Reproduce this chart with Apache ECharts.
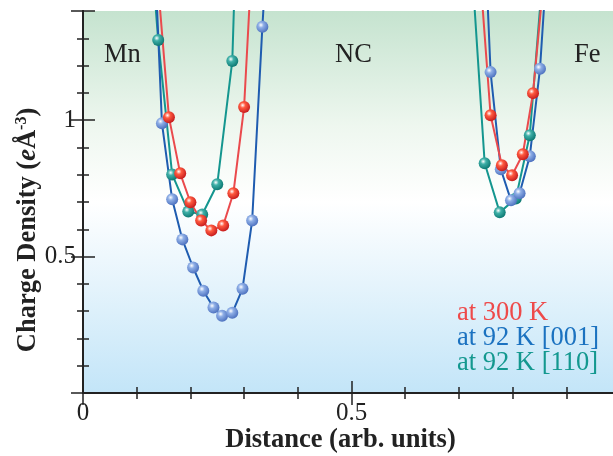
<!DOCTYPE html>
<html lang="en">
<head>
    <meta charset="utf-8">
    <title>charge density</title>
    <script src="https://cdn.jsdelivr.net/npm/echarts@6/dist/echarts.min.js"></script>
    <style>
        html, body { margin: 0; padding: 0; background: #fff; }
    </style>
</head>
<body>
<div id="chart" style="width:613px; height:456px;"></div>

<script>
    // points; points above 1.4 are outside the plot (lines leave the top)
    var redX  = [0.140, 0.160, 0.181, 0.200, 0.220, 0.239, 0.261, 0.280, 0.300, 0.321,
                 0.739, 0.759, 0.780, 0.799, 0.819, 0.838, 0.858];
    var redY  = [1.49, 1.011, 0.805, 0.699, 0.632, 0.596, 0.614, 0.732, 1.048, 1.83,
                 1.55, 1.018, 0.835, 0.798, 0.875, 1.099, 1.52];

    var blueX = [0.129, 0.147, 0.166, 0.185, 0.205, 0.224, 0.243, 0.259, 0.278, 0.297, 0.315, 0.334, 0.353,
                 0.741, 0.759, 0.778, 0.797, 0.813, 0.832, 0.851, 0.869];
    var blueY = [1.82, 0.989, 0.710, 0.563, 0.460, 0.375, 0.313, 0.283, 0.294, 0.382, 0.632, 1.342, 1.97,
                 2.0, 1.176, 0.820, 0.706, 0.732, 0.868, 1.188, 1.73];

    var tealX = [0.112, 0.140, 0.166, 0.196, 0.222, 0.250, 0.278, 0.306,
                 0.720, 0.748, 0.776, 0.806, 0.832, 0.860];
    var tealY = [2.0, 1.294, 0.801, 0.665, 0.654, 0.765, 1.217, 3.0,
                 1.69, 0.842, 0.662, 0.713, 0.945, 1.63];

    var legendNames = ['at 300 K', 'at 92 K [001]', 'at 92 K [110]'];
    var regionNames = ['Mn', 'NC', 'Fe'];

    function pairs(xs, ys) {
        return xs.map(function (x, i) { return [x, ys[i]]; });
    }

    function ball(light, dark) {
        return {
            type: 'radial', x: 0.38, y: 0.35, r: 0.65,
            colorStops: [
                {offset: 0, color: '#ffffff'},
                {offset: 0.35, color: light},
                {offset: 1, color: dark}
            ]
        };
    }

    var serif = '"Liberation Serif", "DejaVu Serif", serif';
    var tickCol = '#222';

    function minorAxis(pos, show, labels) {
        return {
            type: 'value', position: pos, min: 0, max: pos === 'left' || pos === 'right' ? 1.4 : 1, interval: 0.1,
            axisLine: {show: show, lineStyle: {color: tickCol, width: 2}},
            axisTick: {show: true, inside: true, length: 6, lineStyle: {color: tickCol, width: 1.5}},
            axisLabel: labels || {show: false},
            splitLine: {show: false}
        };
    }
    function majorAxis(pos) {
        return {
            type: 'value', position: pos, min: 0, max: pos === 'left' || pos === 'right' ? 1.4 : 1, interval: 0.5,
            axisLine: {show: false},
            axisTick: {show: true, inside: true, length: 12, lineStyle: {color: tickCol, width: 1.5}},
            axisLabel: {show: false},
            splitLine: {show: false}
        };
    }

    var chart = echarts.init(document.getElementById('chart'));

    var xMain = minorAxis('bottom', true, {
        show: true, margin: 8, color: '#222', fontFamily: serif, fontSize: 25,
        formatter: function (v) {
            if (Math.abs(v) < 1e-6) return '0';
            if (Math.abs(v - 0.5) < 1e-6) return '0.5';
            return '';
        }
    });
    xMain.name = 'Distance (arb. units)';
    xMain.nameLocation = 'middle';
    xMain.nameGap = 34;
    xMain.nameMoveOverlap = false;
    xMain.nameTextStyle = {fontFamily: serif, fontWeight: 'bold', fontSize: 26.5, color: '#222', padding: [0, 22, 0, 0]};

    var yMain = minorAxis('left', true, {
        show: true, margin: 7, color: '#222', fontFamily: serif, fontSize: 25,
        formatter: function (v) {
            if (Math.abs(v - 1) < 1e-6) return '1';
            if (Math.abs(v - 0.5) < 1e-6) return '0.5';
            return '';
        }
    });

    chart.setOption({
        animation: false,
        grid: {
            left: 83, right: -7, top: 11, bottom: 63,
            outerBoundsMode: 'none',
            show: true, borderWidth: 0,
            backgroundColor: {
                type: 'linear', x: 0, y: 0, x2: 0, y2: 1,
                colorStops: [
                    {offset: 0, color: '#c5e3cf'},
                    {offset: 0.3, color: '#eef7ef'},
                    {offset: 0.5, color: '#ffffff'},
                    {offset: 1, color: '#c3e5f8'}
                ]
            }
        },
        xAxis: [xMain, majorAxis('bottom'), minorAxis('top', true), majorAxis('top')],
        yAxis: [yMain, majorAxis('left'), minorAxis('right', true), majorAxis('right')],
        series: [
            {
                name: legendNames[2], type: 'line', data: pairs(tealX, tealY),
                symbol: 'circle', symbolSize: 12, clip: true,
                lineStyle: {color: '#14968f', width: 2},
                itemStyle: {color: ball('#3fb0a8', '#0e7a74')}
            },
            {
                name: legendNames[1], type: 'line', data: pairs(blueX, blueY),
                symbol: 'circle', symbolSize: 12, clip: true,
                lineStyle: {color: '#1f5cb0', width: 2},
                itemStyle: {color: ball('#8eaee6', '#4f73c0')}
            },
            {
                name: legendNames[0], type: 'line', data: pairs(redX, redY),
                symbol: 'circle', symbolSize: 12, clip: true,
                lineStyle: {color: '#ea4a4d', width: 2},
                itemStyle: {color: ball('#ff5a40', '#c81e1e')}
            }
        ],
        graphic: [
            {
                type: 'text', x: 28, y: 230, rotation: Math.PI / 2,
                style: {
                    text: '{b|Charge Density (}{bi|e}{b|Å}{sup|-3}{b|)}',
                    align: 'center', verticalAlign: 'middle',
                    rich: {
                        b: {fontFamily: serif, fontWeight: 'bold', fontSize: 26.5, fill: '#222'},
                        bi: {fontFamily: serif, fontWeight: 'bold', fontStyle: 'italic', fontSize: 26.5, fill: '#222'},
                        sup: {fontFamily: serif, fontWeight: 'bold', fontSize: 16, fill: '#222', verticalAlign: 'top', padding: [0, 0, 12, 0]}
                    }
                }
            },
            {type: 'text', left: 104, top: 42, style: {text: regionNames[0], font: '26.5px ' + serif, fill: '#222'}},
            {type: 'text', left: 335, top: 42, style: {text: regionNames[1], font: '26.5px ' + serif, fill: '#222'}},
            {type: 'text', left: 574, top: 42, style: {text: regionNames[2], font: '26.5px ' + serif, fill: '#222'}},
            {type: 'text', left: 457, top: 300, style: {text: legendNames[0], font: '26.5px ' + serif, fill: '#ee4a4a'}},
            {type: 'text', left: 457, top: 325, style: {text: legendNames[1], font: '26.5px ' + serif, fill: '#1b72c0'}},
            {type: 'text', left: 457, top: 350, style: {text: legendNames[2], font: '26.5px ' + serif, fill: '#13988f'}}
        ]
    });
</script>
</body>
</html>
